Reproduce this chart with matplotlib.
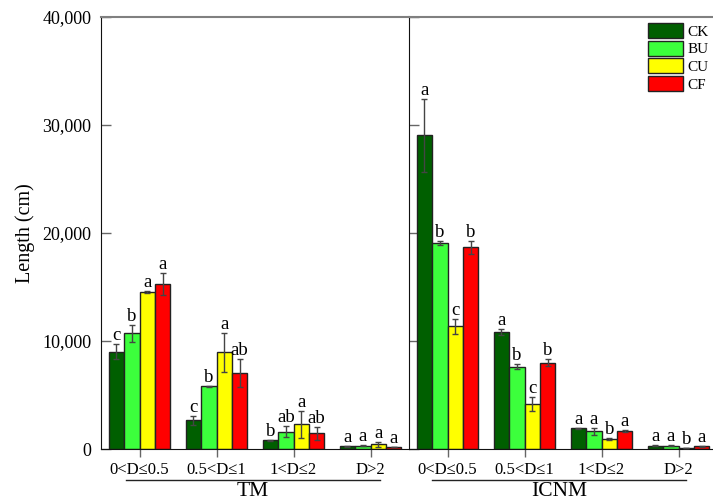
import numpy as np
import matplotlib
matplotlib.use("Agg")
import matplotlib.pyplot as plt
from matplotlib.lines import Line2D
from matplotlib.ticker import FuncFormatter

plt.rcParams['font.family'] = ['Liberation Serif', 'DejaVu Serif']

# diameter classes and treatments
groups = ['0<D≤0.5', '0.5<D≤1', '1<D≤2', 'D>2']
treatments = ['CK', 'BU', 'CU', 'CF']
colors = ['#005f00', '#3cff3c', '#ffff00', '#ff0000']

# TM: rows = treatment, cols = diameter class
tm_means = [[9000, 2650, 800, 250],
            [10700, 5800, 1600, 300],
            [14500, 8950, 2300, 430],
            [15300, 7000, 1450, 200]]
tm_errs = [[700, 400, 60, 30],
           [800, 60, 500, 30],
           [100, 1800, 1250, 250],
           [1000, 1300, 600, 30]]
tm_letters = [['c', 'c', 'b', 'a'],
              ['b', 'b', 'ab', 'a'],
              ['a', 'a', 'a', 'a'],
              ['a', 'ab', 'ab', 'a']]

# ICNM
icnm_means = [[29050, 10830, 1900, 300],
              [19050, 7620, 1640, 300],
              [11350, 4200, 930, 60],
              [18680, 7990, 1670, 250]]
icnm_errs = [[3400, 280, 80, 30],
             [200, 220, 300, 30],
             [700, 650, 60, 10],
             [620, 340, 100, 30]]
icnm_letters = [['a', 'a', 'a', 'a'],
                ['b', 'b', 'a', 'a'],
                ['c', 'c', 'b', 'b'],
                ['b', 'b', 'a', 'a']]

fig = plt.figure(figsize=(7.13, 5.01), dpi=100)
W, H = 713, 501
ax1 = fig.add_axes([101 / W, 52 / H, 308 / W, 432 / H])
ax2 = fig.add_axes([409 / W, 52 / H, 308 / W, 432 / H], sharey=ax1)

x = np.arange(len(groups))
width = 0.2
offsets = [-0.3, -0.1, 0.1, 0.3]


def draw_panel(ax, means, errs, letters, name, x0, x1):
    for i, t in enumerate(treatments):
        ax.bar(x + offsets[i], means[i], width, color=colors[i],
               edgecolor='#222222', linewidth=1, label=t, zorder=2)
        ax.errorbar(x + offsets[i], means[i], yerr=errs[i], fmt='none',
                    ecolor='#444444', elinewidth=1, capsize=2.5,
                    capthick=1, zorder=3)
        for j in range(len(groups)):
            ax.annotate(letters[i][j], (x[j] + offsets[i], means[i][j] + errs[i][j]),
                        xytext=(0, 0), textcoords='offset points',
                        ha='center', va='bottom', fontsize=13.5)
    ax.set_xlim(-0.5, 3.5)
    ax.set_ylim(0, 40000)
    ax.set_xticks(x)
    ax.set_xticklabels(groups, fontsize=12)
    ax.tick_params(axis='x', direction='out', length=6, width=1,
                   color='#666666', pad=3)
    ax.tick_params(axis='y', direction='in', length=7, width=1,
                   color='#666666', labelsize=13, pad=7)
    ax.spines['top'].set_color('#808080')
    ax.spines['top'].set_linewidth(1.5)
    ax.spines['right'].set_visible(False)
    ax.spines['left'].set_color('#111111')
    ax.spines['bottom'].set_color('#111111')
    # group underline and name below the tick labels
    ax.add_line(Line2D([x0, x1], [-0.072, -0.072], transform=ax.transAxes,
                       color='#222222', linewidth=1, clip_on=False))
    ax.text((x0 + x1) / 2, -0.099, name, transform=ax.transAxes,
            ha='center', va='center', fontsize=15.5)


draw_panel(ax1, tm_means, tm_errs, tm_letters, 'TM', 0.081, 0.906)
draw_panel(ax2, icnm_means, icnm_errs, icnm_letters, 'ICNM', 0.075, 0.899)

ax1.set_yticks([0, 10000, 20000, 30000, 40000])
ax1.yaxis.set_major_formatter(FuncFormatter(lambda v, p: f'{int(v):,}'))
ax1.set_ylabel('Length (cm)', fontsize=14.5, labelpad=5)
ax2.tick_params(axis='y', labelleft=False)

ax2.legend(loc='upper left', bbox_to_anchor=(648 / W, 1 - 23 / H),
           bbox_transform=fig.transFigure, frameon=False, fontsize=11,
           handlelength=2.3, handleheight=1.15, labelspacing=0.12,
           handletextpad=0.3, borderpad=0, borderaxespad=0)

fig.savefig('out.png', dpi=100)
